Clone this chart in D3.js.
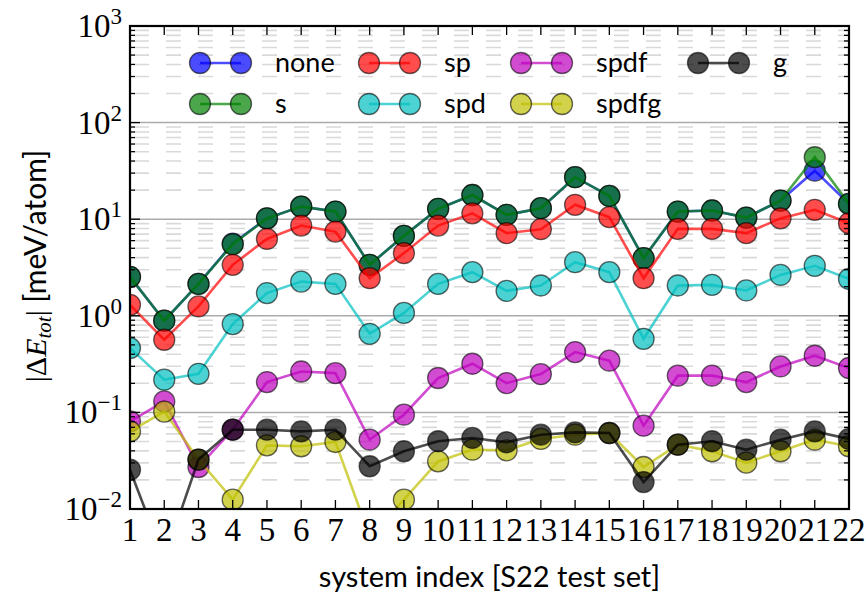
<!DOCTYPE html>
<html><head><meta charset="utf-8">
<script src="https://cdn.jsdelivr.net/npm/d3@7/dist/d3.min.js"></script>
<style>body{margin:0;background:#fff}</style>
</head><body><svg id="c" width="866" height="593"></svg>
<script>
// ---- data ----
const systemIndex = [1,2,3,4,5,6,7,8,9,10,11,12,13,14,15,16,17,18,19,20,21,22];
const seriesNames = ["none","s","sp","spd","spdf","spdfg","g"];
const seriesColors = ["#0000ff","#008000","#ff0000","#00bfbf","#bf00bf","#bfbf00","#000000"];
const noneVals  = [2.53,0.89,2.14,5.6,10.2,13.5,12.0,3.37,6.72,12.8,17.8,11.1,13.0,27.2,17.4,3.95,12.0,12.3,10.4,15.6,31.8,14.4];
const sVals     = [2.53,0.89,2.14,5.5,10.2,13.5,12.0,3.37,6.72,12.8,17.8,11.1,13.0,27.2,17.4,3.95,12.0,12.3,10.4,15.6,43.8,14.4];
const spVals    = [1.30,0.565,1.25,3.37,6.25,8.59,7.44,2.45,4.45,8.59,11.5,7.17,7.88,14.1,10.5,2.45,7.94,7.94,7.17,10.2,12.5,9.09];
const spdVals   = [0.463,0.218,0.251,0.821,1.72,2.26,2.14,0.651,1.07,2.14,2.83,1.81,2.06,3.59,2.83,0.578,2.06,2.09,1.83,2.65,3.29,2.41];
const spdfVals  = [0.0807,0.130,0.0272,0.0662,0.206,0.265,0.255,0.0522,0.0947,0.227,0.319,0.201,0.249,0.421,0.343,0.0728,0.240,0.240,0.206,0.299,0.386,0.288];
const spdfgVals = [0.0636,0.102,0.0325,0.0125,0.0456,0.0446,0.0494,0.0052,0.0125,0.0311,0.0411,0.0405,0.0531,0.0588,0.0612,0.0272,0.0463,0.0396,0.0302,0.0396,0.0522,0.0446];
const gVals     = [0.0255,0.0030,0.0325,0.0662,0.0662,0.0636,0.0662,0.0277,0.0396,0.0503,0.0544,0.0491,0.0588,0.0621,0.0612,0.0190,0.0463,0.0503,0.0411,0.0522,0.0636,0.0531];
const allVals = [noneVals,sVals,spVals,spdVals,spdfVals,spdfgVals,gVals];
const yTickExps = [-2,-1,0,1,2,3];
const xLabel = "system index [S22 test set]";

// ---- layout ----
const L = 130, R = 849, T = 26, B = 509;
const svg = d3.select("#c");
const x = d3.scaleLinear().domain([1,22]).range([L,R]);
const y = d3.scaleLog().domain([1e-2,1e3]).range([B,T]);

svg.append("defs").append("clipPath").attr("id","clip")
  .append("rect").attr("x",L).attr("y",T).attr("width",R-L).attr("height",B-T);

// minor grid (dashed) and major grid
const minorVals = [];
yTickExps.slice(0,-1).forEach(e => { for (let k=2;k<=9;k++) minorVals.push(k*Math.pow(10,e)); });
svg.append("g").selectAll("line").data(minorVals).join("line")
  .attr("x1",L).attr("x2",R).attr("y1",d=>y(d)).attr("y2",d=>y(d))
  .attr("stroke","#d9d9d9").attr("stroke-width",1.6).attr("stroke-dasharray","15,17")
  .attr("stroke-dashoffset",-4);
svg.append("g").selectAll("line").data(yTickExps.slice(1,-1)).join("line")
  .attr("x1",L).attr("x2",R).attr("y1",d=>y(Math.pow(10,d))).attr("y2",d=>y(Math.pow(10,d)))
  .attr("stroke","#ababab").attr("stroke-width",1.5);

// series
const plot = svg.append("g").attr("clip-path","url(#clip)");
allVals.forEach((vals,i) => {
  const g = plot.append("g");
  const line = d3.line().x((d,j)=>x(systemIndex[j])).y(d=>y(d));
  g.append("path").attr("d",line(vals)).attr("fill","none")
    .attr("stroke",seriesColors[i]).attr("stroke-opacity",0.7).attr("stroke-width",2.6);
  g.selectAll("circle").data(vals).join("circle")
    .attr("cx",(d,j)=>x(systemIndex[j])).attr("cy",d=>y(d)).attr("r",10.5)
    .attr("fill",seriesColors[i]).attr("fill-opacity",0.7)
    .attr("stroke","#000").attr("stroke-opacity",0.6).attr("stroke-width",1.3);
});

// ticks
const tk = svg.append("g").attr("stroke","#000").attr("stroke-width",1.3);
systemIndex.forEach(v => {
  tk.append("line").attr("x1",x(v)).attr("x2",x(v)).attr("y1",B).attr("y2",B-9);
  tk.append("line").attr("x1",x(v)).attr("x2",x(v)).attr("y1",T).attr("y2",T+9);
});
yTickExps.forEach(e => {
  const yy = y(Math.pow(10,e));
  tk.append("line").attr("x1",L).attr("x2",L+10).attr("y1",yy).attr("y2",yy);
  tk.append("line").attr("x1",R).attr("x2",R-10).attr("y1",yy).attr("y2",yy);
});
minorVals.forEach(v => {
  const yy = y(v);
  tk.append("line").attr("x1",L).attr("x2",L+5).attr("y1",yy).attr("y2",yy);
  tk.append("line").attr("x1",R).attr("x2",R-5).attr("y1",yy).attr("y2",yy);
});

// frame
svg.append("rect").attr("x",L).attr("y",T).attr("width",R-L).attr("height",B-T)
  .attr("fill","none").attr("stroke","#000").attr("stroke-width",2.2);

// x tick labels
svg.append("g").selectAll("text").data(systemIndex).join("text")
  .attr("x",d=>x(d)).attr("y",541).attr("text-anchor","middle")
  .attr("font-family","Liberation Serif").attr("font-size",33).text(d=>d);

// y tick labels
yTickExps.forEach(e => {
  const t = svg.append("text").attr("x",122).attr("y",y(Math.pow(10,e))+11)
    .attr("text-anchor","end").attr("font-family","Liberation Serif").attr("font-size",33);
  t.append("tspan").text("10");
  t.append("tspan").attr("dy",-13).attr("font-size",23).text(e<0 ? "\u2212"+(-e) : String(e));
});

// x label
svg.append("text").attr("x",(L+R)/2).attr("y",587).attr("text-anchor","middle")
  .attr("font-family","Lato").attr("font-size",29).text(xLabel);

// y label
const yl = svg.append("text").attr("transform","translate(46,266) rotate(-90)")
  .attr("text-anchor","middle").attr("font-size",30);
yl.append("tspan").attr("font-family","Liberation Serif").text("|\u0394");
yl.append("tspan").attr("font-family","Liberation Serif").attr("font-style","italic").text("E");
yl.append("tspan").attr("font-family","Liberation Serif").attr("font-style","italic").attr("font-size",21).attr("dy",5).text("tot");
yl.append("tspan").attr("font-family","Liberation Serif").attr("dy",-5).text("|");
yl.append("tspan").attr("font-family","Lato").text(" [meV/atom]");

// legend
const legCols = [200,369,521,698];
const legRows = [63,104];
const leg = svg.append("g");
seriesNames.forEach((name,i) => {
  const cx = legCols[Math.floor(i/2)], cy = legRows[i%2];
  const g = leg.append("g");
  g.append("line").attr("x1",cx).attr("x2",cx+41).attr("y1",cy).attr("y2",cy)
    .attr("stroke",seriesColors[i]).attr("stroke-opacity",0.7).attr("stroke-width",2.6);
  [cx,cx+41].forEach(px => g.append("circle").attr("cx",px).attr("cy",cy).attr("r",10.5)
    .attr("fill",seriesColors[i]).attr("fill-opacity",0.7)
    .attr("stroke","#000").attr("stroke-opacity",0.6).attr("stroke-width",1.3));
  g.append("text").attr("x",cx+75).attr("y",cy+9).attr("font-family","Lato")
    .attr("font-size",27).text(name);
});
</script></body></html>
